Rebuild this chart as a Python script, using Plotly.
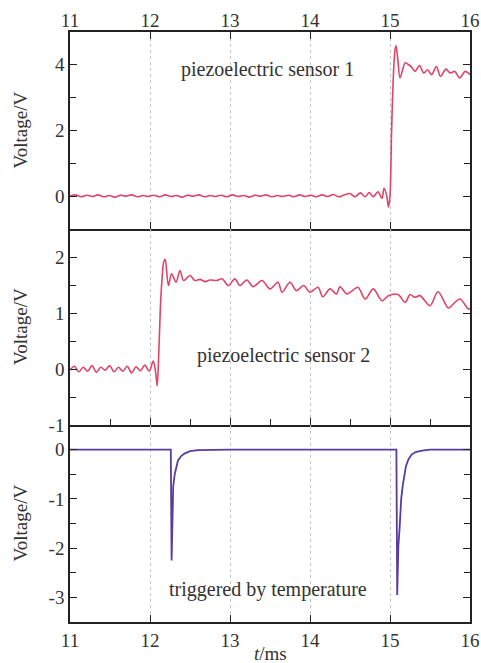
import plotly.graph_objects as go

# ---------------- data ----------------
t1 = [11.00, 11.07, 11.14, 11.21, 11.28, 11.35, 11.42, 11.49, 11.56, 11.63,
      11.70, 11.77, 11.84, 11.91, 11.98, 12.05, 12.12, 12.19, 12.26, 12.33,
      12.40, 12.47, 12.54, 12.61, 12.68, 12.75, 12.82, 12.89, 12.96, 13.03,
      13.10, 13.17, 13.24, 13.31, 13.38, 13.45, 13.52, 13.59, 13.66, 13.73,
      13.80, 13.87, 13.94, 14.01, 14.08, 14.15, 14.22, 14.29, 14.36, 14.43,
      14.50, 14.56, 14.63, 14.69, 14.74, 14.79, 14.85, 14.90, 14.925, 14.96,
      14.98, 15.00, 15.02, 15.04, 15.06, 15.075, 15.10, 15.125, 15.19, 15.23,
      15.27, 15.31, 15.37, 15.42, 15.47, 15.52, 15.58, 15.63, 15.70, 15.75,
      15.81, 15.87, 15.94, 16.00]
v1 = [0.00, 0.04, -0.02, 0.03, -0.01, 0.04, -0.02, 0.02, -0.03, 0.03,
      0.00, 0.04, -0.02, 0.02, -0.01, 0.03, -0.02, 0.04, -0.01, 0.02,
      -0.03, 0.03, 0.00, 0.04, -0.02, 0.02, -0.01, 0.03, -0.02, 0.04,
      -0.01, 0.02, -0.03, 0.03, 0.00, 0.04, -0.02, 0.02, -0.01, 0.03,
      -0.02, 0.04, -0.01, 0.03, -0.02, 0.04, -0.01, 0.05, -0.02, 0.04,
      0.08, -0.02, 0.10, -0.02, 0.11, -0.02, 0.13, -0.07, 0.24, 0.00,
      -0.33, 0.00, 2.00, 3.55, 4.40, 4.59, 4.10, 3.60, 4.06, 4.01,
      3.93, 3.80, 3.98, 3.75, 3.85, 3.70, 3.95, 3.65, 3.87, 3.75,
      3.80, 3.60, 3.80, 3.70]

t2 = [11.00, 11.055, 11.11, 11.165, 11.22, 11.275, 11.33, 11.385, 11.44, 11.495,
      11.55, 11.605, 11.66, 11.715, 11.77, 11.825, 11.88, 11.935, 11.99,
      12.04, 12.07, 12.09, 12.11, 12.13, 12.15, 12.17, 12.19, 12.23,
      12.27, 12.325, 12.375, 12.42, 12.50, 12.56, 12.625, 12.69, 12.75, 12.83,
      12.90, 12.98, 13.06, 13.125, 13.21, 13.29, 13.40, 13.50, 13.60, 13.65,
      13.75, 13.83, 13.92, 14.00, 14.10, 14.16, 14.25, 14.33, 14.375, 14.46,
      14.53, 14.60, 14.69, 14.79, 14.90, 14.98, 15.10, 15.19, 15.25, 15.31,
      15.375, 15.50, 15.60, 15.73, 15.79, 15.875, 15.98, 16.00]
v2 = [-0.02, 0.05, -0.05, 0.03, -0.04, 0.06, -0.06, 0.03, -0.02, 0.06,
      -0.05, 0.03, -0.04, 0.05, -0.07, 0.04, -0.03, 0.07, -0.04,
      0.14, -0.05, -0.30, 0.30, 1.10, 1.60, 1.90, 1.96, 1.49,
      1.70, 1.55, 1.76, 1.58, 1.67, 1.58, 1.60, 1.56, 1.59, 1.58,
      1.61, 1.49, 1.61, 1.49, 1.59, 1.47, 1.58, 1.43, 1.55, 1.37,
      1.55, 1.40, 1.49, 1.37, 1.46, 1.29, 1.43, 1.34, 1.47, 1.34,
      1.40, 1.46, 1.25, 1.43, 1.22, 1.31, 1.33, 1.19, 1.33, 1.28,
      1.31, 1.13, 1.38, 1.09, 1.16, 1.25, 1.07, 1.08]

t3 = [11.00, 11.50, 12.00, 12.26, 12.27, 12.28, 12.29, 12.31, 12.33, 12.35,
      12.39, 12.43, 12.50, 12.60, 13.00, 14.00, 15.08, 15.09, 15.105, 15.12,
      15.14, 15.16, 15.18, 15.20, 15.23, 15.27, 15.32, 15.40, 15.50, 16.00]
v3 = [0.00, 0.00, 0.00, 0.00, -2.25, -1.00, -0.75, -0.49, -0.33, -0.22,
      -0.13, -0.08, -0.03, -0.01, 0.00, 0.00, 0.00, -2.95, -1.95, -1.60,
      -1.00, -0.72, -0.50, -0.33, -0.20, -0.10, -0.05, -0.02, 0.00, 0.00]

x_ticks = [11, 12, 13, 14, 15, 16]
y1_ticks = [0, 2, 4]
y2_ticks = [-1, 0, 1, 2]
y3_ticks = [-3, -2, -1, 0]
labels = ["piezoelectric sensor 1", "piezoelectric sensor 2", "triggered by temperature"]
y_title = "Voltage/V"
x_title = "<i>t</i>/ms"

# ---------------- styling ----------------
FONT = "Liberation Serif, Times New Roman, serif"
TXT = "#333333"
AX = "#222222"
RED = "#e0446a"
PURPLE = "#5a3c9c"

fig = go.Figure()
fig.add_trace(go.Scatter(x=t1, y=v1, mode="lines", line=dict(color=RED, width=1.6, shape="spline", smoothing=0.8),
                         xaxis="x", yaxis="y", showlegend=False))
fig.add_trace(go.Scatter(x=t2, y=v2, mode="lines", line=dict(color=RED, width=1.6, shape="spline", smoothing=0.9),
                         xaxis="x2", yaxis="y2", showlegend=False))
fig.add_trace(go.Scatter(x=t3, y=v3, mode="lines", line=dict(color=PURPLE, width=1.8),
                         xaxis="x3", yaxis="y3", showlegend=False))

H = 590.0
d3 = [0, 197 / H]
d2 = [197 / H, 393 / H]
d1 = [393 / H, 1]

common_x = dict(range=[11, 16], tickvals=x_ticks, showline=True, linecolor=AX, linewidth=1.5,
                ticks="inside", ticklen=7, tickwidth=1.3, tickcolor=AX,
                showgrid=True, gridcolor="#c4c4c4", griddash="dot", gridwidth=1,
                zeroline=False, tickfont=dict(family=FONT, size=19, color=TXT), automargin=False)
common_y = dict(showline=True, linecolor=AX, linewidth=1.5, ticks="inside", ticklen=7, tickwidth=1.3,
                tickcolor=AX, mirror="ticks", showgrid=False, zeroline=False, automargin=False,
                tickfont=dict(family=FONT, size=19, color=TXT))


def hyph(vals):
    return [str(v).replace("\u2212", "-") for v in vals]


fig.update_layout(
    width=481, height=663,
    margin=dict(l=70, r=11, t=32, b=41),
    paper_bgcolor="white", plot_bgcolor="white",
    xaxis=dict(common_x, anchor="y", side="top", mirror="ticks", showticklabels=True, ticklabelstandoff=-4),
    xaxis2=dict(common_x, anchor="y2", side="bottom", mirror=False, showticklabels=False, matches="x",
                minor=dict(dtick=0.5, tick0=11, ticks="inside", ticklen=6, tickwidth=1.3, tickcolor=AX, showgrid=False)),
    xaxis3=dict(common_x, anchor="y3", side="bottom", mirror=False, showticklabels=True, matches="x"),
    yaxis=dict(common_y, domain=d1, anchor="x", range=[-1, 5], tickvals=y1_ticks, ticktext=hyph(y1_ticks),
               minor=dict(tickvals=[-1, 1, 3, 5], ticks="inside", ticklen=6, tickwidth=1.3, tickcolor=AX)),
    yaxis2=dict(common_y, domain=d2, anchor="x2", range=[-1, 2.5], tickvals=y2_ticks, ticktext=hyph(y2_ticks),
                minor=dict(tickvals=[-0.5, 0.5, 1.5, 2.5], ticks="inside", ticklen=6, tickwidth=1.3, tickcolor=AX)),
    yaxis3=dict(common_y, domain=d3, anchor="x3", range=[-3.5, 0.5], tickvals=y3_ticks, ticktext=hyph(y3_ticks),
                minor=dict(tickvals=[-3.5, -2.5, -1.5, -0.5, 0.5], ticks="inside", ticklen=6, tickwidth=1.3, tickcolor=AX)),
)

ann_font = dict(family=FONT, size=20, color=TXT)
fig.add_annotation(x=13.47, y=3.85, xref="x", yref="y", text=labels[0], showarrow=False, font=ann_font)
fig.add_annotation(x=13.67, y=0.25, xref="x2", yref="y2", text=labels[1], showarrow=False, font=ann_font)
fig.add_annotation(x=13.47, y=-2.85, xref="x3", yref="y3", text=labels[2], showarrow=False, font=ann_font)

for dom in (d1, d2, d3):
    fig.add_annotation(x=-0.125, y=(dom[0] + dom[1]) / 2, xref="paper", yref="paper", text=y_title,
                       textangle=-90, showarrow=False, font=dict(family=FONT, size=19, color=TXT),
                       xanchor="center", yanchor="middle")
fig.add_annotation(x=0.5, y=-31 / H, xref="paper", yref="paper", text=x_title, showarrow=False,
                   font=dict(family=FONT, size=19, color=TXT), xanchor="center", yanchor="middle")

fig.write_html("out.html", config={"displayModeBar": False},
               post_script="document.body.style.margin='0px';")
